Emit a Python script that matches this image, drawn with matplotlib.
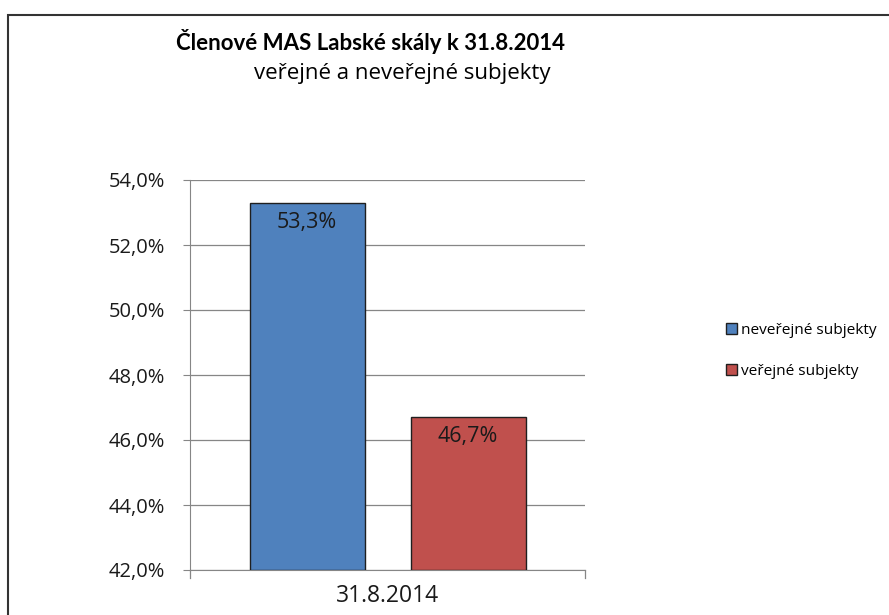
import matplotlib
matplotlib.use("Agg")
import matplotlib.pyplot as plt
from matplotlib.patches import Rectangle
from matplotlib.ticker import FuncFormatter

categories = ["31.8.2014"]
series_names = ["neveřejné subjekty", "veřejné subjekty"]
series_values = [53.3, 46.7]
series_colors = ["#4f81bd", "#c0504d"]
y_ticks = [42, 44, 46, 48, 50, 52, 54]

plt.rcParams['font.family'] = ['Open Sans', 'DejaVu Sans']

W, H = 889, 615
fig = plt.figure(figsize=(W / 100, H / 100), dpi=100)

# outer frame of the chart
fig.patches.append(Rectangle((8 / W, -0.1), 1.2, 1 - 15 / H + 0.1, transform=fig.transFigure,
                             fill=False, edgecolor="#333333", linewidth=1.5))

ax = fig.add_axes([190 / W, (H - 570) / H, (585 - 190) / W, (570 - 180) / H])

bw = 115 / 395
gap = 23 / 395
offsets = [-(bw / 2 + gap), (bw / 2 + gap)]
for i, (name, val, col) in enumerate(zip(series_names, series_values, series_colors)):
    ax.bar(offsets[i], val - 42, bottom=42, width=bw, color=col, edgecolor="#1f1f1f",
           linewidth=1.0, label=name, zorder=3)
    ax.text(offsets[i], val - 0.28, f"{val:.1f}%".replace(".", ","), ha="center", va="top",
            fontsize=15.5, color="#1a1a1a", zorder=4)

ax.set_xlim(-0.5, 0.5)
ax.set_ylim(42, 54)
ax.set_yticks(y_ticks)
ax.yaxis.set_major_formatter(FuncFormatter(lambda v, p: f"{v:.1f}%".replace(".", ",")))
ax.set_xticks([0])
ax.set_xticklabels(categories)
ax.grid(axis="y", color="#868686", linewidth=0.9, zorder=0)
for s in ["top", "right"]:
    ax.spines[s].set_visible(False)
ax.spines["left"].set_color("#868686")
ax.spines["bottom"].set_color("#868686")
ax.tick_params(axis="y", length=5, color="#868686", labelsize=14.5, labelcolor="#1a1a1a", pad=13)
ax.tick_params(axis="x", length=0, labelsize=16.5, labelcolor="#1a1a1a", pad=10)
for xe in (-0.5, 0.5):
    ax.plot([xe, xe], [42, 41.75], color="#868686", linewidth=0.9, clip_on=False)

fig.text(370 / W, 1 - 42 / H, "Členové MAS Labské skály k 31.8.2014", ha="center", va="center",
         fontsize=16, fontweight="bold", color="#000000", family=["Lato", "DejaVu Sans"])
fig.text(402 / W, 1 - 74 / H, "veřejné a neveřejné subjekty", ha="center", va="center",
         fontsize=16, color="#000000")

leg = fig.legend(loc="center left", bbox_to_anchor=(726 / W, 1 - 351 / H), frameon=False,
                 fontsize=11.1, handlelength=0.72, handleheight=0.72, handletextpad=0.25,
                 labelspacing=1.7, borderpad=0, borderaxespad=0)
for h in leg.legend_handles:
    h.set_edgecolor("#1f1f1f")

fig.savefig("out.png", dpi=100)
